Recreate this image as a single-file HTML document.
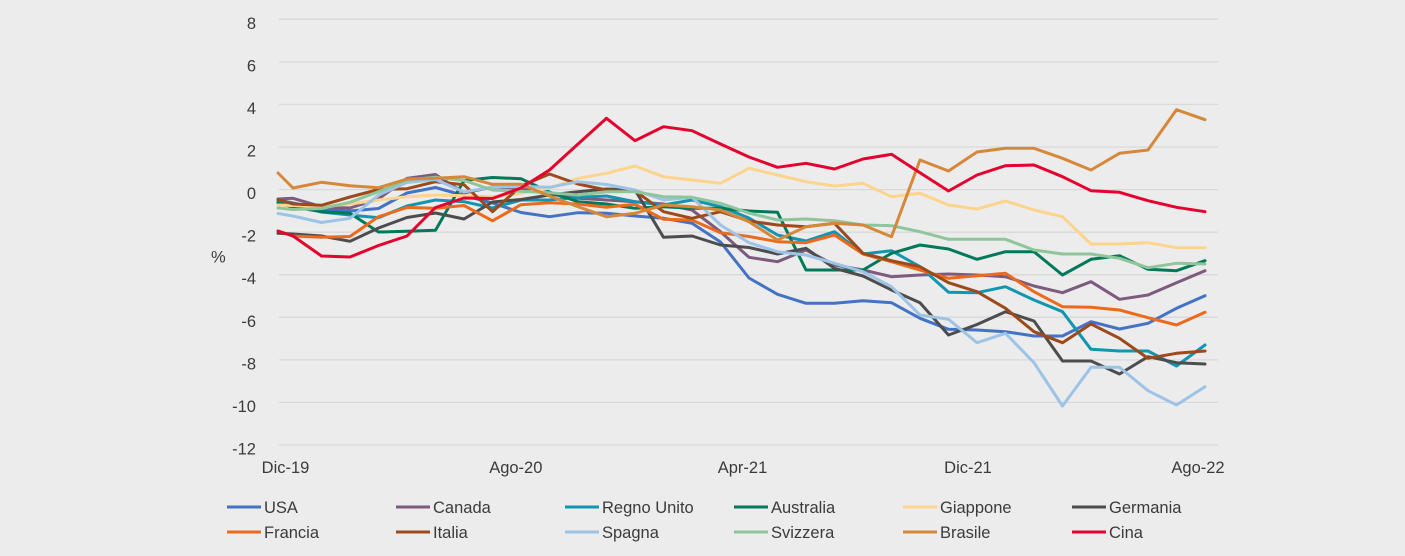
<!DOCTYPE html>
<html>
<head>
<meta charset="utf-8">
<style>
  html, body { margin:0; padding:0; }
  body { width:1405px; height:556px; background:#ececec; overflow:hidden; }
  svg { display:block; }
  text { font-family:"Liberation Sans", sans-serif; fill:#3b3b3b; }
</style>
</head>
<body>
<svg width="1405" height="556" viewBox="0 0 1405 556" xmlns="http://www.w3.org/2000/svg">
  <rect x="0" y="0" width="1405" height="556" fill="#ececec"/>
  <!-- gridlines -->
  <g stroke="#d9d9d9" stroke-width="1.3">
    <line x1="279" y1="19.3" x2="1218" y2="19.3"/>
    <line x1="279" y1="61.9" x2="1218" y2="61.9"/>
    <line x1="279" y1="104.4" x2="1218" y2="104.4"/>
    <line x1="279" y1="147" x2="1218" y2="147"/>
    <line x1="279" y1="189.6" x2="1218" y2="189.6"/>
    <line x1="279" y1="232.2" x2="1218" y2="232.2"/>
    <line x1="279" y1="274.7" x2="1218" y2="274.7"/>
    <line x1="279" y1="317.3" x2="1218" y2="317.3"/>
    <line x1="279" y1="359.9" x2="1218" y2="359.9"/>
    <line x1="279" y1="402.4" x2="1218" y2="402.4"/>
    <line x1="279" y1="445" x2="1218" y2="445"/>
  </g>
  <!-- y labels -->
  <g font-size="16.5" text-anchor="end">
    <text x="256" y="29">8</text>
    <text x="256" y="71.5">6</text>
    <text x="256" y="114">4</text>
    <text x="256" y="156.5">2</text>
    <text x="256" y="199">0</text>
    <text x="256" y="241.7">-2</text>
    <text x="256" y="284.2">-4</text>
    <text x="256" y="326.8">-6</text>
    <text x="256" y="369.4">-8</text>
    <text x="256" y="411.9">-10</text>
    <text x="256" y="454.5">-12</text>
  </g>
  <text x="211" y="262.5" font-size="16.5">%</text>
  <!-- x labels -->
  <g font-size="16.5" text-anchor="middle">
    <text x="285.5" y="472.8">Dic-19</text>
    <text x="515.8" y="472.8">Ago-20</text>
    <text x="742.5" y="472.8">Apr-21</text>
    <text x="968" y="472.8">Dic-21</text>
    <text x="1198" y="472.8">Ago-22</text>
  </g>
  <!-- series -->
  <g fill="none" stroke-width="3" stroke-linejoin="round" stroke-linecap="round">
    <polyline stroke="#4472c4" points="278,200 293,203 321.5,209 350,211 378.5,208.5 407,193 435.5,187.5 464,195.5 492.5,203 521,212.5 549.5,216.7 578,212.7 606.5,213.3 635,216 663.5,218.3 692,223.3 720.5,242 749,278 777.5,294.3 806,303.3 834.5,303.3 863,300.7 891.5,302.7 920,318.3 948.5,329.3 977,330 1005.5,331.7 1034,336 1062.5,336 1091,321.7 1119.5,329 1148,323.3 1176.5,308.3 1205,295.7"/>
    <polyline stroke="#7d5a7e" points="278,199 293,198.3 321.5,206.7 350,208 378.5,199 407,178.3 435.5,174.5 464,193 492.5,187 521,188.3 549.5,194 578,198.3 606.5,200 635,201.7 663.5,204 692,210 720.5,231.7 749,257.3 777.5,261.7 806,250 834.5,265 863,270 891.5,276.7 920,275 948.5,274 977,275 1005.5,276.7 1034,286 1062.5,292.7 1091,281.7 1119.5,299.3 1148,295 1176.5,282.7 1205,270.7"/>
    <polyline stroke="#1295b1" points="278,201.5 293,205 321.5,212 350,215 378.5,217.7 407,206 435.5,200 464,201.7 492.5,208 521,200 549.5,200 578,197.3 606.5,196 635,201.7 663.5,205 692,200 720.5,206.7 749,218 777.5,235 806,241 834.5,231.7 863,254 891.5,250.7 920,266.7 948.5,292.3 977,292.7 1005.5,286.7 1034,300 1062.5,311.7 1091,349.3 1119.5,351 1148,351 1176.5,366 1205,345"/>
    <polyline stroke="#00795b" points="278,203 293,207 321.5,211.7 350,213.3 378.5,232 407,231.3 435.5,230.3 464,180.5 492.5,177.5 521,178.7 549.5,192 578,201.7 606.5,204 635,208.3 663.5,206.7 692,208.3 720.5,208.3 749,211 777.5,212.3 806,270 834.5,270 863,270 891.5,253.3 920,245 948.5,249 977,259.3 1005.5,251.7 1034,251.7 1062.5,275 1091,259.3 1119.5,255.7 1148,269.3 1176.5,270.7 1205,260.7"/>
    <polyline stroke="#fdd48c" points="278,205 293,205.5 321.5,206.7 350,204 378.5,200 407,196.7 435.5,195 464,195.7 492.5,196.7 521,193.3 549.5,188.3 578,178.3 606.5,173.3 635,166 663.5,176.7 692,180 720.5,183.3 749,168.3 777.5,175 806,181.7 834.5,186 863,183.3 891.5,196.7 920,193.3 948.5,205 977,209 1005.5,201 1034,210 1062.5,216.7 1091,244 1119.5,244 1148,242.7 1176.5,247.7 1205,247.7"/>
    <polyline stroke="#4d4d4d" points="278,233.3 293,234 321.5,236 350,241.3 378.5,228 407,217.5 435.5,213 464,219 492.5,202 521,199.5 549.5,195 578,191.7 606.5,189 635,190 663.5,237.3 692,236 720.5,245 749,247.5 777.5,254 806,248.3 834.5,268.3 863,276 891.5,290 920,302.7 948.5,335 977,324.5 1005.5,311.7 1034,321 1062.5,361 1091,361 1119.5,374 1148,356.7 1176.5,362.7 1205,364"/>
    <polyline stroke="#ec6a1c" points="278,231 293,236 321.5,237.3 350,236.5 378.5,216.7 407,207.5 435.5,208.3 464,205.5 492.5,220.8 521,204.7 549.5,202.7 578,204 606.5,207.3 635,204.3 663.5,219.3 692,220 720.5,232.7 749,236.5 777.5,241.7 806,242.7 834.5,235 863,254 891.5,261.7 920,270 948.5,278.3 977,275.8 1005.5,273.3 1034,291.7 1062.5,306.7 1091,307.3 1119.5,310 1148,317.7 1176.5,325 1205,312.3"/>
    <polyline stroke="#9c4a1b" points="278,199.5 293,204 321.5,205.3 350,197 378.5,189.5 407,188.7 435.5,181.7 464,184.7 492.5,211.7 521,186 549.5,174 578,184 606.5,190 635,190.7 663.5,211.7 692,218.3 720.5,211.7 749,221 777.5,225 806,226.7 834.5,223.3 863,253.3 891.5,260.7 920,266.7 948.5,282.7 977,291.7 1005.5,308.3 1034,331.7 1062.5,342.7 1091,324 1119.5,338.3 1148,358.3 1176.5,353.3 1205,351"/>
    <polyline stroke="#9dc3e6" points="278,213.5 293,216 321.5,222.5 350,218.3 378.5,195 407,182.5 435.5,179.5 464,192 492.5,187 521,186.5 549.5,187.3 578,181.7 606.5,184.5 635,190 663.5,200 692,197.3 720.5,225 749,242.7 777.5,251.7 806,255 834.5,263.3 863,271.7 891.5,286.7 920,315 948.5,319.3 977,342.7 1005.5,333.3 1034,362.7 1062.5,406 1091,367.3 1119.5,367.3 1148,390.7 1176.5,405 1205,386.7"/>
    <polyline stroke="#8ec59b" points="278,208 293,209.5 321.5,208.5 350,202.3 378.5,191.7 407,180 435.5,177.2 464,180.5 492.5,190 521,191.3 549.5,192.7 578,195 606.5,191.7 635,191.7 663.5,196.7 692,197.3 720.5,203.3 749,213 777.5,220 806,219 834.5,220.7 863,225 891.5,225.7 920,231.7 948.5,239.3 977,239.3 1005.5,239.3 1034,250 1062.5,254 1091,254 1119.5,258.3 1148,267.7 1176.5,263.3 1205,264"/>
    <polyline stroke="#d6883a" points="278,173 293,188 321.5,182.3 350,185.7 378.5,187.7 407,179 435.5,178.3 464,176.7 492.5,184.3 521,184.3 549.5,196 578,206.7 606.5,216.7 635,213.3 663.5,205 692,206.7 720.5,210 749,221.7 777.5,240 806,226.7 834.5,223.3 863,225 891.5,236.7 920,160 948.5,171 977,152 1005.5,148.3 1034,148.3 1062.5,158.3 1091,170 1119.5,153.3 1148,150 1176.5,109.7 1205,119.7"/>
    <polyline stroke="#e3032e" points="278,231 293,236 321.5,256 350,257 378.5,245.5 407,236 435.5,207.5 464,198 492.5,198.5 521,188 549.5,170 578,144 606.5,118.3 635,140.7 663.5,126.7 692,130.7 720.5,144 749,157 777.5,167.3 806,163.3 834.5,169 863,159 891.5,154.3 920,172.7 948.5,191 977,175 1005.5,165.7 1034,165 1062.5,176.7 1091,190.7 1119.5,192.3 1148,200.7 1176.5,207.3 1205,211.7"/>
  </g>
  <!-- legend -->
  <g stroke-width="3">
    <line x1="227" y1="507" x2="261" y2="507" stroke="#4472c4"/>
    <line x1="396" y1="507" x2="430" y2="507" stroke="#7d5a7e"/>
    <line x1="565" y1="507" x2="599" y2="507" stroke="#1295b1"/>
    <line x1="734" y1="507" x2="768" y2="507" stroke="#00795b"/>
    <line x1="903" y1="507" x2="937" y2="507" stroke="#fdd48c"/>
    <line x1="1072" y1="507" x2="1106" y2="507" stroke="#4d4d4d"/>
    <line x1="227" y1="532" x2="261" y2="532" stroke="#ec6a1c"/>
    <line x1="396" y1="532" x2="430" y2="532" stroke="#9c4a1b"/>
    <line x1="565" y1="532" x2="599" y2="532" stroke="#9dc3e6"/>
    <line x1="734" y1="532" x2="768" y2="532" stroke="#8ec59b"/>
    <line x1="903" y1="532" x2="937" y2="532" stroke="#d6883a"/>
    <line x1="1072" y1="532" x2="1106" y2="532" stroke="#e3032e"/>
  </g>
  <g font-size="16.5">
    <text x="264" y="513">USA</text>
    <text x="433" y="513">Canada</text>
    <text x="602" y="513">Regno Unito</text>
    <text x="771" y="513">Australia</text>
    <text x="940" y="513">Giappone</text>
    <text x="1109" y="513">Germania</text>
    <text x="264" y="538">Francia</text>
    <text x="433" y="538">Italia</text>
    <text x="602" y="538">Spagna</text>
    <text x="771" y="538">Svizzera</text>
    <text x="940" y="538">Brasile</text>
    <text x="1109" y="538">Cina</text>
  </g>
</svg>
</body>
</html>
